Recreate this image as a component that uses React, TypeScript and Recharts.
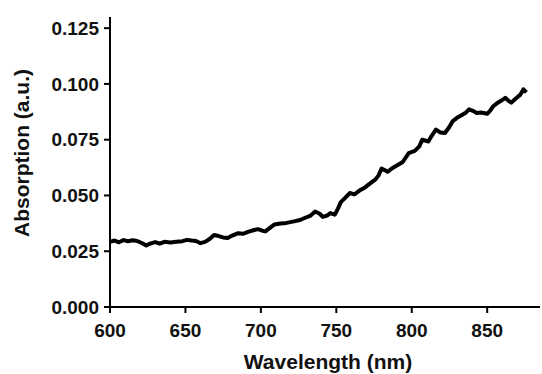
import React from 'react';
import { LineChart, Line, XAxis, YAxis, Label } from 'recharts';

const wavelengths = [
  600, 603, 606, 609, 612, 615, 618, 621, 624, 627, 630, 633, 636, 640, 644, 648, 651, 654, 657, 660,
  663, 666, 669, 672, 675, 678, 681, 685, 688, 692, 695, 698, 701, 703, 706, 709, 713, 717, 722, 726,
  729, 733, 736, 739, 741, 744, 746, 749, 751, 753, 756, 759, 762, 766, 769, 772, 776, 778, 780, 782,
  784, 787, 791, 794, 798, 802, 805, 807, 811, 813, 816, 819, 822, 825, 827, 830, 833, 836, 838, 841,
  843, 846, 850, 852, 854, 857, 860, 862, 864, 866, 869, 872, 874, 876,
];

const absorption = [
  0.0292, 0.0298, 0.029, 0.03, 0.0295, 0.0299, 0.0296, 0.0287, 0.0276, 0.0285, 0.0291, 0.0284, 0.0292, 0.0289, 0.0292, 0.0295, 0.0301, 0.0298, 0.0296, 0.0286,
  0.0292, 0.0305, 0.0323, 0.0318, 0.0312, 0.0309, 0.032, 0.0331, 0.0328, 0.0338, 0.0344, 0.0349, 0.0342, 0.0339, 0.0355, 0.037, 0.0374, 0.0377, 0.0384, 0.039,
  0.0399, 0.041, 0.0428, 0.0418, 0.0404, 0.041, 0.0421, 0.0414, 0.044, 0.047, 0.049, 0.0511, 0.0505, 0.0525, 0.0536, 0.0552, 0.0572, 0.059, 0.062, 0.0614,
  0.0606, 0.0622, 0.0638, 0.065, 0.069, 0.07, 0.072, 0.075, 0.0742, 0.0765, 0.0795, 0.0782, 0.078, 0.0808, 0.0832, 0.0848, 0.086, 0.0872, 0.0886, 0.0878,
  0.087, 0.0872, 0.0866, 0.088, 0.09, 0.0916, 0.0928, 0.0938, 0.0925, 0.0916, 0.0935, 0.0952, 0.0976, 0.0962,
];

const xTicks = [600, 650, 700, 750, 800, 850];
const yTicks = [0, 0.025, 0.05, 0.075, 0.1, 0.125];

const data = wavelengths.map((w, i) => ({ w, a: absorption[i] }));

const font = '"Liberation Sans", Arial, sans-serif';
const tickStyle = { fontFamily: font, fontSize: 19, fontWeight: 700, fill: '#111' };

export default function App() {
  return (
    <div style={{ position: 'absolute', left: 0, top: 0, background: '#fff' }}>
      <LineChart width={542} height={374} data={data} margin={{ top: 17, right: 2, bottom: 0, left: 0 }}>
        <XAxis
          dataKey="w"
          type="number"
          domain={[600, 885]}
          ticks={xTicks}
          allowDataOverflow
          height={67}
          tickSize={6}
          tickMargin={11}
          stroke="#000"
          strokeWidth={2}
          tick={tickStyle}
          tickLine={{ stroke: '#000', strokeWidth: 2 }}
        >
          <Label
            value="Wavelength (nm)"
            position="insideBottom"
            offset={5}
            dx={3}
            style={{ fontFamily: font, fontSize: 21, fontWeight: 700, fill: '#111' }}
          />
        </XAxis>
        <YAxis
          type="number"
          domain={[0, 0.13]}
          ticks={yTicks}
          allowDataOverflow
          width={110}
          tickSize={6}
          tickMargin={5}
          stroke="#000"
          strokeWidth={2}
          tick={tickStyle}
          tickLine={{ stroke: '#000', strokeWidth: 2 }}
          tickFormatter={(v: number) => v.toFixed(3)}
        >
          <Label
            value="Absorption (a.u.)"
            angle={-90}
            position="insideLeft"
            offset={22}
            dy={-9}
            style={{ fontFamily: font, fontSize: 21, fontWeight: 700, fill: '#111', textAnchor: 'middle' }}
          />
        </YAxis>
        <Line
          type="linear"
          dataKey="a"
          stroke="#000"
          strokeWidth={4}
          dot={false}
          isAnimationActive={false}
          strokeLinejoin="round"
        />
      </LineChart>
    </div>
  );
}
